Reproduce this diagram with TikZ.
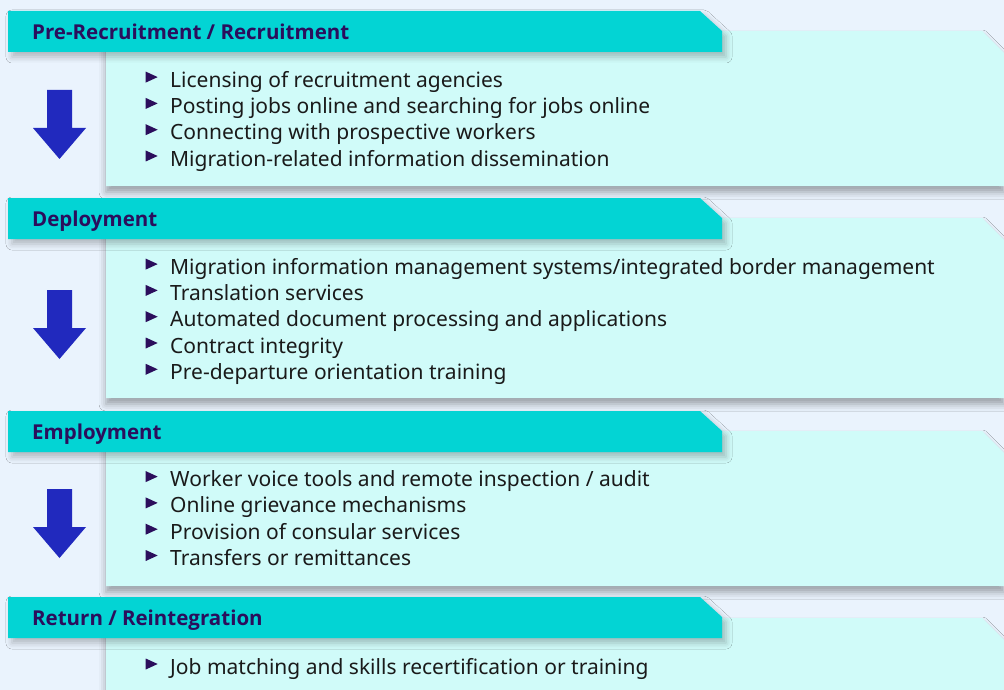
\documentclass[tikz,border=0pt]{standalone}
\usepackage{fontspec}
\setmainfont{Noto Sans}
\newfontfamily\titlefont{Open Sans}
\usetikzlibrary{shadows.blur}

\definecolor{pagebg}{HTML}{EAF3FD}
\definecolor{barteal}{HTML}{03D4D4}
\definecolor{panelcyan}{HTML}{D0FBF9}
\definecolor{titleink}{HTML}{2B0E5C}
\definecolor{itemink}{HTML}{1A1A1A}
\definecolor{arrowblue}{HTML}{2129BE}

% small filled triangle in front of every item
\newcommand{\itemmark}{\tikz[baseline=0pt]\fill[titleink] (0pt,4.5pt) -- (0pt,15.5pt) -- (12pt,10pt) -- cycle;\hspace{12.5pt}}

\begin{document}
\begin{tikzpicture}[x=1pt,y=-1pt,
    stagebar/.style={fill=barteal,
      blur shadow={shadow xshift=4pt,shadow yshift=-5pt,shadow blur radius=6pt,shadow opacity=25}},
    stagepanel/.style={fill=panelcyan,
      blur shadow={shadow xshift=0pt,shadow yshift=-6pt,shadow blur radius=7pt,shadow opacity=35}},
    stagetitle/.style={anchor=base west,inner sep=0pt,text=titleink,
      font=\titlefont\bfseries\fontsize{20.5}{24}\selectfont},
    % lists are placed by the baseline of their last line
    itemlist/.style={anchor=base west,inner sep=0pt,align=left,text=itemink,
      font=\fontsize{21}{26.3}\selectfont},
    downarrow/.style={fill=arrowblue}]
  \fill[pagebg] (0,0) rectangle (1004,690);
  \useasboundingbox (0,0) rectangle (1004,690);

  % pre-recruitment / recruitment
  \fill[stagepanel] (106,31) -- (982,31) -- (1004,53) -- (1004,186) -- (106,186) -- cycle;
  \fill[stagebar] (8,11) -- (700,11) -- (722,31) -- (722,52) -- (8,52) -- cycle;
  \node[stagetitle] (recruit) at (32,39.5) {Pre-Recruitment / Recruitment};
  \node[itemlist] (recruititems) at (145.5,166) {%
    \itemmark Licensing of recruitment agencies\\
    \itemmark Posting jobs online and searching for jobs online\\
    \itemmark Connecting with prospective workers\\
    \itemmark Migration-related information dissemination};
  \fill[downarrow] (47,90) -- (72,90) -- (72,128) -- (86,128) -- (59.5,159)
    -- (33,128) -- (47,128) -- cycle;

  % deployment
  \fill[stagepanel] (106,218) -- (982,218) -- (1004,240) -- (1004,398) -- (106,398) -- cycle;
  \fill[stagebar] (8,198) -- (700,198) -- (722,218) -- (722,239) -- (8,239) -- cycle;
  \node[stagetitle] (deploy) at (32,226.5) {Deployment};
  \node[itemlist] (deployitems) at (145.5,379.3) {%
    \itemmark Migration information management systems/integrated border management\\
    \itemmark Translation services\\
    \itemmark Automated document processing and applications\\
    \itemmark Contract integrity\\
    \itemmark Pre-departure orientation training};
  \fill[downarrow] (47,290) -- (72,290) -- (72,328) -- (86,328) -- (59.5,359)
    -- (33,328) -- (47,328) -- cycle;

  % employment
  \fill[stagepanel] (106,431) -- (982,431) -- (1004,453) -- (1004,586) -- (106,586) -- cycle;
  \fill[stagebar] (8,411) -- (700,411) -- (722,431) -- (722,452) -- (8,452) -- cycle;
  \node[stagetitle] (employ) at (32,439.5) {Employment};
  \node[itemlist] (employitems) at (145.5,565.5) {%
    \itemmark Worker voice tools and remote inspection / audit\\
    \itemmark Online grievance mechanisms\\
    \itemmark Provision of consular services\\
    \itemmark Transfers or remittances};
  \fill[downarrow] (47,489) -- (72,489) -- (72,527) -- (86,527) -- (59.5,558)
    -- (33,527) -- (47,527) -- cycle;

  % return / reintegration
  \fill[stagepanel] (106,618) -- (982,618) -- (1004,640) -- (1004,720) -- (106,720) -- cycle;
  \fill[stagebar] (8,597) -- (700,597) -- (722,617) -- (722,638) -- (8,638) -- cycle;
  \node[stagetitle] (return) at (32,625.5) {Return / Reintegration};
  \node[itemlist] (returnitems) at (145.5,674) {%
    \itemmark Job matching and skills recertification or training};
\end{tikzpicture}
\end{document}
